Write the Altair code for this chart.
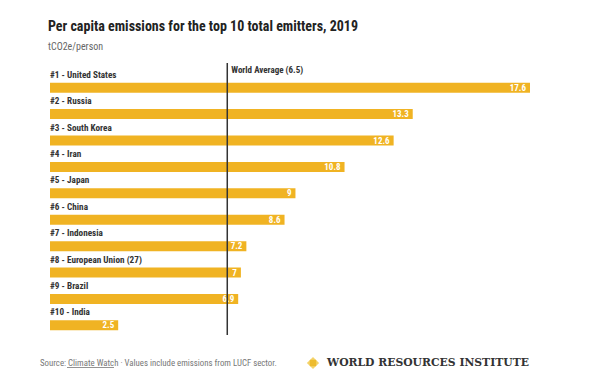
import altair as alt
import pandas as pd

countries = ["#1 - United States", "#2 - Russia", "#3 - South Korea", "#4 - Iran",
             "#5 - Japan", "#6 - China", "#7 - Indonesia", "#8 - European Union (27)",
             "#9 - Brazil", "#10 - India"]
ranks = [1, 2, 3, 4, 5, 6, 7, 8, 9, 10]
values = [17.6, 13.3, 12.6, 10.8, 9, 8.6, 7.2, 7, 6.9, 2.5]
value_labels = ["17.6", "13.3", "12.6", "10.8", "9", "8.6", "7.2", "7", "6.9", "2.5"]
world_avg = 6.5

title = "Per capita emissions for the top 10 total emitters, 2019"
subtitle = "tCO2e/person"
source = "Source: Climate Watch · Values include emissions from LUCF sector."
org = "WORLD RESOURCES INSTITUTE"

FONT = "Liberation Sans Narrow, Roboto Condensed, Roboto, sans-serif"
BAR = "#F0B323"

df = pd.DataFrame({"country": countries, "rank": ranks, "value": values, "label": value_labels})

xs = alt.Scale(domain=[0, 17.6], nice=False, zero=True)
ys = alt.Scale(domain=[0.14, 10.29], reverse=True, nice=False, zero=False)

base = alt.Chart(df)
x = alt.X("value:Q", scale=xs, axis=None)
y = alt.Y("rank:Q", scale=ys, axis=None)

bars = base.mark_bar(size=10, color=BAR, orient="horizontal").encode(x=x, y=y)

names = base.mark_text(align="left", baseline="middle", dy=-13, font=FONT, fontSize=9.2,
                       fontWeight="bold", color="#333333").encode(
    x=alt.value(0), y=y, text="country:N")

vals = base.mark_text(align="right", baseline="middle", dx=-4, font=FONT, fontSize=9,
                      fontWeight="bold", color="white").encode(x=x, y=y, text="label:N")

avg_df = pd.DataFrame({"avg": [world_avg], "t": ["World Average (6.5)"]})
rule = alt.Chart(avg_df).mark_rule(color="#333333", strokeWidth=1.5).encode(
    x=alt.X("avg:Q", scale=xs), y=alt.value(3), y2=alt.value(275))
avg_text = alt.Chart(avg_df).mark_text(align="left", baseline="middle", dx=4, font=FONT,
                                       fontSize=9, fontWeight="bold", color="#333333").encode(
    x=alt.X("avg:Q", scale=xs), y=alt.value(10), text="t:N")

def txt(s, xv, yv, **kw):
    return alt.Chart(pd.DataFrame({"t": [s]})).mark_text(baseline="middle", **kw).encode(
        x=alt.value(xv), y=alt.value(yv), text="t:N")

t1 = txt(title, -2, -33, align="left", font=FONT, fontSize=14, fontWeight="bold", color="#222222")
t2 = txt(subtitle, -2, -13, align="left", font=FONT, fontSize=10, color="#666666")
t3 = txt(source, -10, 303, align="left", font=FONT, fontSize=8.8, color="#777777")
t4 = txt(org, 277, 303, align="left", font="DejaVu Serif, Liberation Serif, serif",
         fontSize=10.8, fontWeight="bold", color="#333333")

underline = alt.Chart(pd.DataFrame({"a": [0]})).mark_rule(color="#777777", strokeWidth=0.8).encode(
    x=alt.value(17), x2=alt.value(64), y=alt.value(307.5))
logo = alt.Chart(pd.DataFrame({"a": [0]})).mark_point(shape="diamond", filled=True, size=150,
                                                      color="#F4D36A", opacity=1).encode(
    x=alt.value(263), y=alt.value(303))
logo_in = alt.Chart(pd.DataFrame({"a": [0]})).mark_point(shape="square", filled=True, size=40,
                                                         color="#EDBB2E", opacity=1).encode(
    x=alt.value(263), y=alt.value(303))

chart = alt.layer(bars, names, vals, rule, avg_text, t1, t2, t3, t4, underline, logo, logo_in).properties(
    width=480, height=278,
    padding={"left": 42, "top": 52, "right": 50, "bottom": 40},
    autosize=alt.AutoSizeParams(type="none"),
    background="white",
).configure_view(stroke=None)

chart.save("out.html", embed_options={"renderer": "svg", "actions": False})
